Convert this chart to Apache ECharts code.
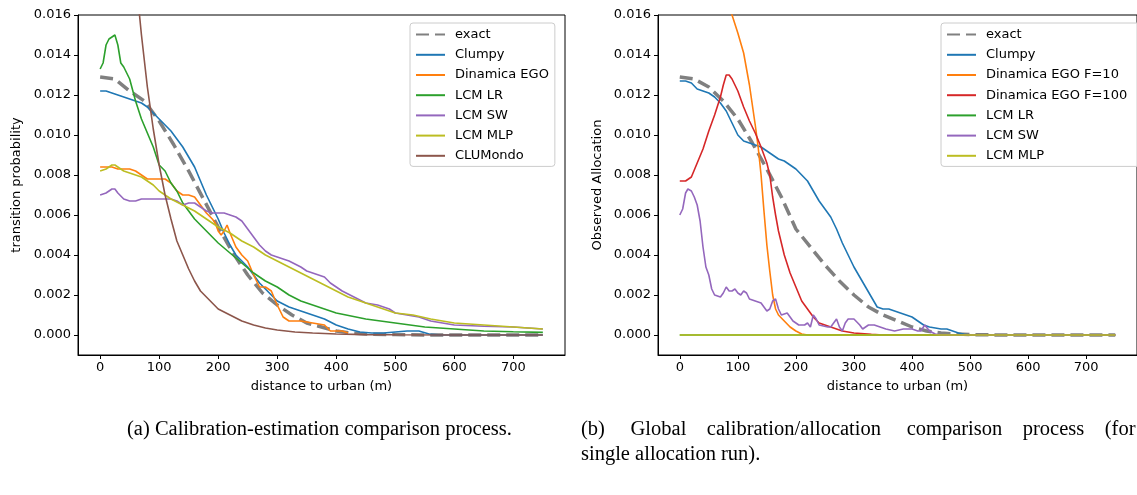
<!DOCTYPE html>
<html>
<head>
<meta charset="utf-8">
<script src="https://cdn.jsdelivr.net/npm/echarts@6/dist/echarts.min.js"></script>
<style>
  html, body { margin: 0; padding: 0; background: #fff; }
  #chart { width: 1137px; height: 495px; }
</style>
</head>
<body>
<div id="chart"></div>
<script>
// tick labels
const xTicks = [0, 100, 200, 300, 400, 500, 600, 700];
const yTicks = [0, 0.002, 0.004, 0.006, 0.008, 0.010, 0.012, 0.014, 0.016];

// (a) calibration-estimation, [distance, probability]
const exactA = [[0, 0.0129], [25, 0.0128], [50, 0.0122], [75, 0.0117], [100, 0.0107], [125, 0.0095], [150, 0.0082], [175, 0.0068], [200, 0.0054], [225, 0.0041], [250, 0.0030], [275, 0.0021], [300, 0.0015], [325, 0.0010], [350, 0.0006], [375, 0.0004], [400, 0.0002], [425, 0.0001], [450, 0.00005], [500, 0.00002], [550, 0], [750, 0]];
const clumpyA = [[0, 0.0122], [10, 0.0122], [20, 0.0121], [30, 0.0120], [40, 0.0119], [50, 0.0118], [60, 0.0117], [70, 0.0116], [80, 0.0114], [90, 0.0111], [100, 0.0108], [110, 0.0105], [120, 0.0102], [130, 0.0098], [140, 0.0094], [150, 0.0089], [160, 0.0084], [170, 0.0077], [180, 0.0070], [190, 0.0064], [200, 0.0058], [210, 0.0051], [220, 0.0045], [230, 0.0040], [240, 0.0037], [250, 0.0034], [260, 0.0030], [270, 0.0026], [280, 0.0023], [290, 0.0020], [300, 0.0017], [320, 0.0014], [340, 0.0012], [360, 0.0010], [380, 0.0008], [400, 0.0005], [420, 0.0003], [440, 0.00015], [460, 0.0001], [480, 0.0001], [500, 0.00015], [520, 0.0002], [540, 0.0002], [560, 0.00003], [580, 0], [750, 0]];
const dinamicaA = [[0, 0.0084], [10, 0.0084], [20, 0.0084], [30, 0.0083], [40, 0.0083], [50, 0.0083], [60, 0.0082], [70, 0.0080], [80, 0.0078], [90, 0.0078], [100, 0.0078], [110, 0.0078], [120, 0.0076], [130, 0.0072], [140, 0.0070], [150, 0.0070], [160, 0.0069], [170, 0.0065], [180, 0.0061], [190, 0.0058], [195, 0.0056], [200, 0.0052], [205, 0.0050], [210, 0.0052], [215, 0.0055], [220, 0.0051], [230, 0.0044], [240, 0.0040], [250, 0.0037], [260, 0.0030], [270, 0.0024], [280, 0.0024], [290, 0.0022], [300, 0.0015], [310, 0.0009], [320, 0.0007], [340, 0.0007], [360, 0.0006], [380, 0.0005], [390, 0.0002], [410, 0.0002], [420, 0.0001]];
const lrA = [[0, 0.0133], [5, 0.0136], [10, 0.0145], [15, 0.0148], [20, 0.0149], [25, 0.0150], [30, 0.0145], [35, 0.0136], [40, 0.0134], [45, 0.0131], [50, 0.0128], [60, 0.0117], [70, 0.0108], [80, 0.0101], [90, 0.0094], [100, 0.0085], [110, 0.0082], [120, 0.0076], [130, 0.0072], [140, 0.0066], [150, 0.0062], [160, 0.0058], [170, 0.0055], [180, 0.0052], [190, 0.0049], [200, 0.0046], [220, 0.0041], [240, 0.0036], [260, 0.0031], [280, 0.0027], [300, 0.0024], [320, 0.0020], [340, 0.0017], [360, 0.0015], [380, 0.0013], [400, 0.0011], [450, 0.0008], [500, 0.0006], [550, 0.0004], [600, 0.0003], [650, 0.0002], [700, 0.00016], [750, 0.00013]];
const swA = [[0, 0.0070], [10, 0.0071], [20, 0.0073], [25, 0.0073], [30, 0.0071], [40, 0.0068], [50, 0.0067], [60, 0.0067], [70, 0.0068], [80, 0.0068], [90, 0.0068], [100, 0.0068], [110, 0.0068], [120, 0.0068], [130, 0.0067], [140, 0.0065], [150, 0.0066], [160, 0.0066], [170, 0.0064], [180, 0.0062], [190, 0.0061], [200, 0.0061], [210, 0.0061], [220, 0.0060], [230, 0.0059], [240, 0.0057], [250, 0.0053], [260, 0.0049], [270, 0.0045], [280, 0.0042], [290, 0.0040], [300, 0.0039], [320, 0.0037], [340, 0.0034], [350, 0.0032], [370, 0.0030], [380, 0.0029], [390, 0.0026], [400, 0.0024], [410, 0.0022], [430, 0.0019], [450, 0.0016], [470, 0.0015], [490, 0.0013], [500, 0.0011], [520, 0.0010], [540, 0.0009], [560, 0.0007], [580, 0.0006], [600, 0.0005], [650, 0.00044], [700, 0.0004], [750, 0.0003]];
const mlpA = [[0, 0.0082], [10, 0.0083], [20, 0.0085], [25, 0.0085], [30, 0.0084], [40, 0.0082], [50, 0.0081], [60, 0.0080], [70, 0.0079], [80, 0.0077], [90, 0.0075], [100, 0.0072], [120, 0.0068], [140, 0.0065], [160, 0.0062], [180, 0.0058], [200, 0.0054], [220, 0.0051], [240, 0.0047], [260, 0.0044], [280, 0.0040], [300, 0.0037], [320, 0.0034], [340, 0.0031], [360, 0.0028], [380, 0.0025], [400, 0.0022], [420, 0.0019], [440, 0.0017], [460, 0.0015], [480, 0.0013], [500, 0.0011], [530, 0.0010], [560, 0.0008], [600, 0.0006], [650, 0.0005], [700, 0.0004], [750, 0.0003]];
const clumondoA = [[0, 0.055], [20, 0.038], [40, 0.026], [60, 0.018], [70, 0.0150], [80, 0.0124], [90, 0.0103], [100, 0.0085], [110, 0.0070], [120, 0.0058], [130, 0.0047], [140, 0.0040], [150, 0.0033], [160, 0.0027], [170, 0.0022], [180, 0.0019], [190, 0.0016], [200, 0.0013], [220, 0.0010], [240, 0.0007], [260, 0.0005], [280, 0.00035], [300, 0.00025], [330, 0.00015], [360, 0.0001], [400, 0.00005], [450, 0.00002], [500, 0.00001], [600, 0], [750, 0]];

// (b) global calibration/allocation, [distance, observed allocation]
const exactB = [[0, 0.0129], [25, 0.0128], [50, 0.0124], [75, 0.0117], [100, 0.0108], [125, 0.0096], [150, 0.0083], [175, 0.0069], [200, 0.0053], [225, 0.0044], [250, 0.0035], [275, 0.0027], [300, 0.0020], [325, 0.0014], [350, 0.0010], [375, 0.0007], [400, 0.0004], [425, 0.0002], [450, 0.0001], [475, 0.00005], [500, 0.00002], [550, 0], [750, 0]];
const clumpyB = [[0, 0.0127], [10, 0.0127], [20, 0.0126], [30, 0.0123], [40, 0.0122], [50, 0.0121], [60, 0.0119], [70, 0.0116], [80, 0.0112], [90, 0.0106], [100, 0.0100], [110, 0.0097], [120, 0.0096], [130, 0.0095], [140, 0.0094], [150, 0.0092], [160, 0.0090], [170, 0.0088], [180, 0.0087], [190, 0.0085], [200, 0.0083], [210, 0.0080], [220, 0.0077], [230, 0.0072], [240, 0.0067], [250, 0.0063], [260, 0.0059], [270, 0.0053], [280, 0.0046], [290, 0.0040], [300, 0.0034], [310, 0.0029], [320, 0.0024], [330, 0.0019], [340, 0.0014], [350, 0.0013], [360, 0.0013], [370, 0.0012], [380, 0.0011], [390, 0.0010], [400, 0.0009], [410, 0.0007], [420, 0.0005], [430, 0.0004], [450, 0.0003], [460, 0.0003], [470, 0.0002], [480, 0.0001], [490, 0.00003], [500, 0], [750, 0]];
const dinamica10B = [[0, 0.030], [25, 0.026], [50, 0.022], [75, 0.018], [90, 0.0160], [100, 0.0151], [110, 0.0141], [120, 0.0125], [130, 0.0105], [135, 0.0094], [140, 0.0080], [145, 0.0062], [150, 0.0045], [155, 0.0032], [160, 0.0020], [165, 0.0013], [170, 0.0010], [180, 0.0007], [190, 0.0004], [200, 0.0002], [210, 0.00005], [220, 0], [750, 0]];
const dinamica100B = [[0, 0.0077], [10, 0.0077], [20, 0.0079], [30, 0.0086], [40, 0.0093], [50, 0.0102], [60, 0.0110], [70, 0.0119], [75, 0.0125], [80, 0.0130], [85, 0.0130], [90, 0.0128], [100, 0.0122], [110, 0.0114], [120, 0.0107], [130, 0.0101], [140, 0.0094], [150, 0.0086], [155, 0.0080], [160, 0.0069], [165, 0.0060], [170, 0.0052], [180, 0.0040], [190, 0.0031], [200, 0.0024], [210, 0.0017], [220, 0.0013], [230, 0.0009], [240, 0.0006], [260, 0.0004], [280, 0.0002], [300, 0.0001], [330, 0.00003], [350, 0], [750, 0]];
const lrB = [[0, 0], [750, 0]];
const swB = [[0, 0.0060], [5, 0.0063], [10, 0.0071], [14, 0.0073], [20, 0.0072], [25, 0.0069], [30, 0.0065], [35, 0.0057], [40, 0.0044], [45, 0.0034], [50, 0.0030], [55, 0.0023], [60, 0.0020], [70, 0.0019], [75, 0.0021], [80, 0.0024], [85, 0.0022], [90, 0.0022], [95, 0.0023], [100, 0.0021], [105, 0.0020], [110, 0.0022], [115, 0.0021], [120, 0.0018], [130, 0.0017], [140, 0.0016], [145, 0.0014], [150, 0.0012], [155, 0.0013], [160, 0.0017], [165, 0.0018], [170, 0.0013], [175, 0.0010], [185, 0.0011], [190, 0.0009], [195, 0.0007], [205, 0.0005], [215, 0.0005], [220, 0.0006], [225, 0.0004], [230, 0.0010], [235, 0.0008], [240, 0.0005], [255, 0.0004], [260, 0.0004], [265, 0.0006], [270, 0.0008], [275, 0.0004], [280, 0.0002], [285, 0.0006], [290, 0.0008], [300, 0.0008], [310, 0.0005], [315, 0.0003], [325, 0.0005], [335, 0.0005], [345, 0.0004], [355, 0.0003], [370, 0.0002], [385, 0.0003], [400, 0.0003], [410, 0.0002], [415, 0.0002], [422, 0.0005], [430, 0.0002], [440, 0.00005], [450, 0], [750, 0]];
const mlpB = [[0, 0], [750, 0]];

const font = 'DejaVu Sans';
const serif = 'Liberation Serif';
const colors = {
  exact: '#808080',
  Clumpy: '#1f77b4',
  'Dinamica EGO': '#ff7f0e',
  'Dinamica EGO F=10': '#ff7f0e',
  'Dinamica EGO F=100': '#d62728',
  'LCM LR': '#2ca02c',
  'LCM SW': '#9467bd',
  'LCM MLP': '#bcbd22',
  CLUMondo: '#8c564b',
};

function xAxisOpt (gridIndex) {
  return {
    type: 'value',
    gridIndex: gridIndex,
    min: -37.5,
    max: 787.5,
    name: 'distance to urban (m)',
    nameLocation: 'middle',
    nameGap: 25,
    nameTextStyle: { fontFamily: font, fontSize: 13, color: '#000' },
    splitLine: { show: false },
    axisLine: { onZero: false, lineStyle: { color: '#000', width: 1 } },
    axisTick: { show: true, length: 4, lineStyle: { color: '#000' }, customValues: xTicks },
    axisLabel: { fontFamily: font, fontSize: 13, color: '#000', margin: 6, customValues: xTicks },
  };
}

function yAxisOpt (gridIndex, name, gap) {
  return {
    type: 'value',
    gridIndex: gridIndex,
    min: -0.001,
    max: 0.016,
    name: name,
    nameLocation: 'middle',
    nameGap: gap,
    nameTextStyle: { fontFamily: font, fontSize: 13, color: '#000' },
    splitLine: { show: false },
    axisLine: { show: true, onZero: false, lineStyle: { color: '#000', width: 1 } },
    axisTick: { show: true, length: 4, lineStyle: { color: '#000' }, customValues: yTicks },
    axisLabel: {
      fontFamily: font, fontSize: 13, color: '#000', margin: 7,
      customValues: yTicks,
      formatter: (v) => v.toFixed(3),
    },
  };
}

function lineSeries (name, data, idx) {
  const dashed = name === 'exact';
  return {
    name: name,
    type: 'line',
    xAxisIndex: idx,
    yAxisIndex: idx,
    data: data,
    symbol: 'emptyCircle',
    showSymbol: false,
    clip: true,
    color: colors[name],
    lineStyle: {
      color: colors[name],
      width: dashed ? 3.5 : 1.6,
      type: dashed ? [13, 6] : 'solid',
    },
  };
}

function legendOpt (left, names, padRight) {
  return {
    orient: 'vertical',
    left: left,
    top: 23,
    data: names,
    itemWidth: 29,
    itemHeight: 14,
    itemGap: 7,
    padding: [5, padRight, 4, 5],
    itemStyle: { opacity: 0 },
    backgroundColor: 'rgba(255,255,255,0.8)',
    borderColor: '#cccccc',
    borderWidth: 1,
    borderRadius: 3,
    textStyle: { fontFamily: font, fontSize: 13, color: '#000', padding: [0, 0, 0, 5] },
  };
}

const seriesA = [
  ['exact', exactA], ['Clumpy', clumpyA], ['Dinamica EGO', dinamicaA], ['LCM LR', lrA],
  ['LCM SW', swA], ['LCM MLP', mlpA], ['CLUMondo', clumondoA],
];
const seriesB = [
  ['exact', exactB], ['Clumpy', clumpyB], ['Dinamica EGO F=10', dinamica10B],
  ['Dinamica EGO F=100', dinamica100B], ['LCM LR', lrB], ['LCM SW', swB], ['LCM MLP', mlpB],
];

const captionStyle = { fontFamily: serif, fontSize: 20.5, fontWeight: 'normal', color: '#000', lineHeight: 25 };

const chart = echarts.init(document.getElementById('chart'), null, { renderer: 'canvas' });
chart.setOption({
  animation: false,
  backgroundColor: '#fff',
  title: [
    {
      text: '(a) Calibration-estimation comparison process.',
      left: 122,
      top: 412,
      textStyle: captionStyle,
    },
    {
      // first line is justified in the reference, so the gaps are widened
      text: '(b)     Global    calibration/allocation     comparison    process    (for\nsingle allocation run).',
      left: 576,
      top: 412,
      textStyle: captionStyle,
    },
  ],
  grid: [
    { left: 78, top: 15, width: 487, height: 340, show: true, borderColor: '#000', borderWidth: 1 },
    { left: 658, top: 15, width: 487, height: 340, show: true, borderColor: '#000', borderWidth: 1 },
  ],
  xAxis: [xAxisOpt(0), xAxisOpt(1)],
  yAxis: [yAxisOpt(0, 'transition probability', 55), yAxisOpt(1, 'Observed Allocation', 54)],
  legend: [
    legendOpt(410, seriesA.map((s) => s[0]), 6),
    legendOpt(941, seriesB.map((s) => s[0]), 14),
  ],
  series: [
    ...seriesA.map((s) => lineSeries(s[0], s[1], 0)),
    ...seriesB.map((s) => lineSeries(s[0], s[1], 1)),
  ],
});
</script>
</body>
</html>
